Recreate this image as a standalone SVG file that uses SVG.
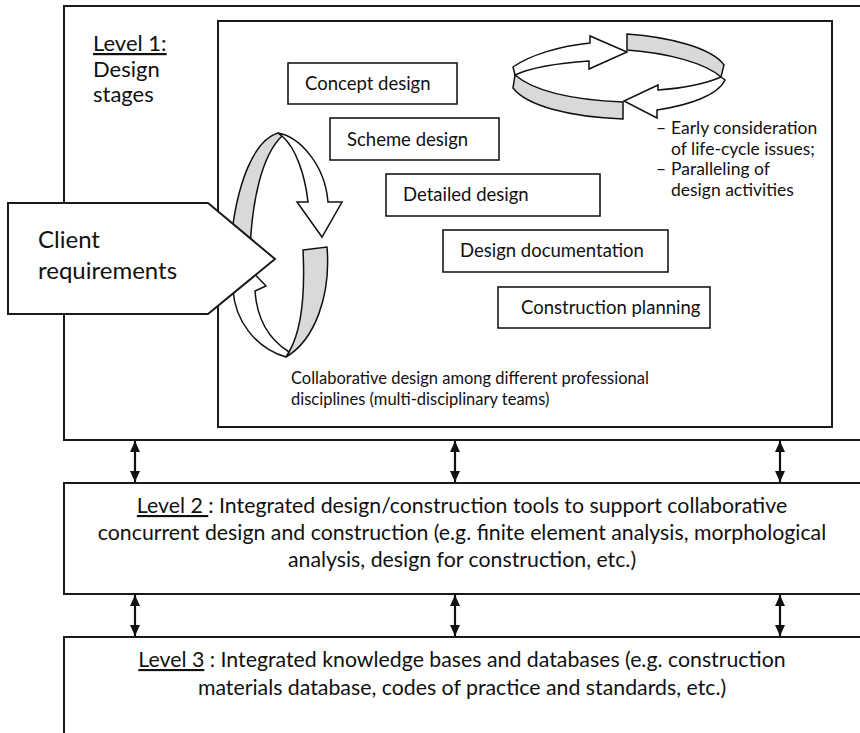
<svg xmlns="http://www.w3.org/2000/svg" width="860" height="733" viewBox="0 0 860 733">
<defs>
<style>
.box{fill:#fff;stroke:#1a1a1a;stroke-width:2}
.sbox{fill:#fff;stroke:#1a1a1a;stroke-width:1.6}
.t{font-family:"Lato","Open Sans","Liberation Sans",sans-serif;fill:#111}
.tb{font-size:18.5px}
.tn{font-size:17.5px}
.tc{font-size:16.5px}
.t20{font-size:22px}
.tl{font-size:21.3px}
.t22{font-size:24px}
.w{fill:#fff;stroke:#111;stroke-width:1.5;stroke-linejoin:miter}
.g{fill:#d9d9d9;stroke:#111;stroke-width:1.5;stroke-linejoin:miter}
.conn{stroke:#111;stroke-width:2.2;fill:none;marker-start:url(#ah);marker-end:url(#ah)}
</style>
<marker id="ah" markerUnits="userSpaceOnUse" markerWidth="12" markerHeight="10" refX="11" refY="5" orient="auto-start-reverse">
<path d="M0,0 L11,5 L0,10 z" fill="#111"/>
</marker>
</defs>

<g id="level1">
<rect class="box" x="64" y="6" width="810" height="434"/>
<text class="t t20" x="93" y="51" text-decoration="underline">Level 1:</text>
<text class="t t20" x="93" y="77">Design</text>
<text class="t t20" x="93" y="102">stages</text>
</g>

<g id="design-stages">
<rect class="box" x="218" y="21" width="614" height="406"/>
</g>

<g id="concept-design">
<rect class="sbox" x="288" y="63" width="169" height="41"/>
<text class="t tb" x="305" y="90">Concept design</text>
</g>
<g id="scheme-design">
<rect class="sbox" x="330" y="118" width="169" height="42"/>
<text class="t tb" x="347" y="146">Scheme design</text>
</g>
<g id="detailed-design">
<rect class="sbox" x="386" y="174" width="214" height="42"/>
<text class="t tb" x="403" y="201">Detailed design</text>
</g>
<g id="design-documentation">
<rect class="sbox" x="443" y="230" width="225" height="42"/>
<text class="t tb" x="460" y="257">Design documentation</text>
</g>
<g id="construction-planning">
<rect class="sbox" x="498" y="287" width="212" height="41"/>
<text class="t tb" x="521" y="314">Construction planning</text>
</g>

<g id="concurrent-cycle">
<path class="w" d="M513,67 C530,55 560,46 590,43 L590,36 L627,52 L589,69 L589,61 C560,63 530,68 515,75 Z"/>
<path class="g" d="M515,75 C535,92 575,100 623,102 L623,119 C570,117 527,106 513,88 Z"/>
<path class="g" d="M627,34 C670,37 712,48 724,65 L721,77 C705,63 668,53 627,50 Z"/>
<path class="w" d="M721,77 C705,84 685,88 658,90 L658,85 L624,101 L657,118 L657,110 C690,105 718,95 725,80 Z"/>
</g>

<g id="concurrent-notes">
<text class="t tn" x="656" y="134">–</text>
<text class="t tn" x="671" y="134">Early consideration</text>
<text class="t tn" x="671" y="155">of life-cycle issues;</text>
<text class="t tn" x="656" y="175">–</text>
<text class="t tn" x="671" y="175">Paralleling of</text>
<text class="t tn" x="671" y="196">design activities</text>
</g>

<g id="collaborative-cycle">
<path class="g" d="M278,133 C255,140 236,180 230,250 L250,250 C252,200 262,155 282,136 Z"/>
<path class="w" d="M278,133 C300,137 325,165 328,202 L342,202 L322,237 L297,202 L308,202 C305,175 296,148 282,136 Z"/>
<path class="g" d="M303,250 L327,247 C331,295 315,340 286,357 L289,352 C302,330 305,290 303,250 Z"/>
<path class="w" d="M289,352 C270,340 257,320 255,291 L266,286 L243,262 L224,292 L233,290 C235,320 255,348 286,357 Z"/>
</g>

<g id="collaborative-note">
<text class="t tc" x="291" y="384">Collaborative design among different professional</text>
<text class="t tc" x="291" y="405">disciplines (multi-disciplinary teams)</text>
</g>

<g id="client-requirements">
<path class="box" d="M8,203 L208,203 L275,259 L208,314 L8,314 Z"/>
<text class="t t22" x="38" y="248">Client</text>
<text class="t t22" x="38" y="279">requirements</text>
</g>

<g id="level2">
<rect class="box" x="64" y="483" width="810" height="111"/>
<text class="t tl" x="462" y="513" text-anchor="middle"><tspan text-decoration="underline">Level 2 </tspan>: Integrated design/construction tools to support collaborative</text>
<text class="t tl" x="462" y="540" text-anchor="middle">concurrent design and construction (e.g. finite element analysis, morphological</text>
<text class="t tl" x="462" y="567" text-anchor="middle">analysis, design for construction, etc.)</text>
</g>

<g id="level3">
<rect class="box" x="64" y="637" width="810" height="120"/>
<text class="t tl" x="462" y="667" text-anchor="middle"><tspan text-decoration="underline">Level 3</tspan> : Integrated knowledge bases and databases (e.g. construction</text>
<text class="t tl" x="462" y="695" text-anchor="middle">materials database, codes of practice and standards, etc.)</text>
</g>

<g id="connectors">
<path class="conn" d="M135,441 L135,482"/>
<path class="conn" d="M455,441 L455,482"/>
<path class="conn" d="M780,441 L780,482"/>
<path class="conn" d="M135,595 L135,636"/>
<path class="conn" d="M455,595 L455,636"/>
<path class="conn" d="M780,595 L780,636"/>
</g>
</svg>
